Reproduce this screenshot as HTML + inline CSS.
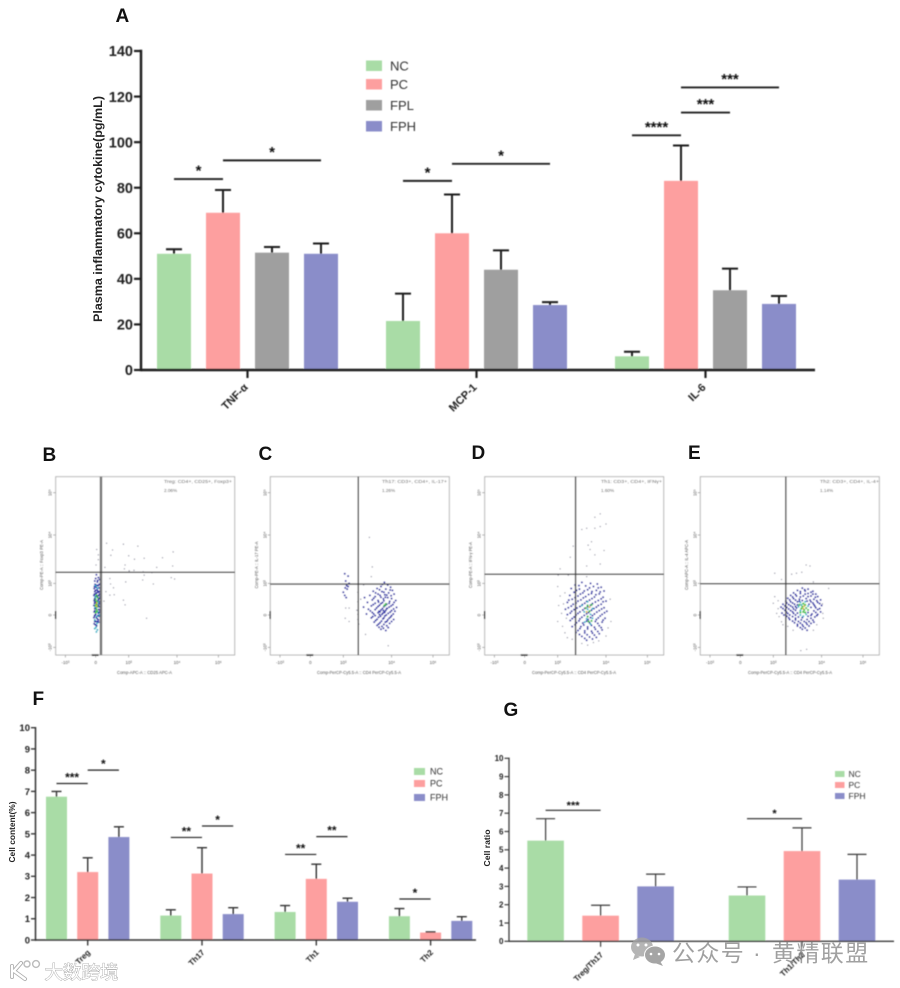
<!DOCTYPE html>
<html lang="en">
<head>
<meta charset="utf-8">
<title>Plasma cytokines and T-cell subsets</title>
<style>
html,body{margin:0;padding:0;background:#fff;width:900px;height:988px;overflow:hidden}
svg{display:block;font-family:"Liberation Sans","Noto Sans CJK SC",sans-serif}
.panel{font-weight:bold;fill:#111;font-size:19px}
.ftxt{fill:#555;font-size:4.6px}
.ttl{font-weight:bold;fill:#222}
</style>
</head>
<body>
<svg id="fig" xmlns="http://www.w3.org/2000/svg" width="900" height="988" viewBox="0 0 900 988">
  <defs>
    <filter id="soft" x="-5%" y="-5%" width="110%" height="110%"><feGaussianBlur stdDeviation="0.45"/></filter>
    <filter id="softer" x="-5%" y="-5%" width="110%" height="110%"><feGaussianBlur stdDeviation="0.4"/></filter>
  </defs>
  <g id="charts" filter="url(#soft)"></g>
  <g id="flows" filter="url(#softer)">
    <text class="ftxt" x="164" y="483" textLength="68" lengthAdjust="spacingAndGlyphs">Treg: CD4+, CD25+, Foxp3+</text>
    <text class="ftxt" x="164" y="492">2.06%</text>
    <text class="ftxt" x="382" y="483" textLength="65" lengthAdjust="spacingAndGlyphs">Th17: CD3+, CD4+, IL-17+</text>
    <text class="ftxt" x="382" y="492">1.26%</text>
    <text class="ftxt" x="601" y="483" textLength="61" lengthAdjust="spacingAndGlyphs">Th1: CD3+, CD4+, IFNγ+</text>
    <text class="ftxt" x="601" y="492">1.60%</text>
    <text class="ftxt" x="820" y="483" textLength="59" lengthAdjust="spacingAndGlyphs">Th2: CD3+, CD4+, IL-4+</text>
    <text class="ftxt" x="820" y="492">1.14%</text>
    <text class="ftxt" x="144.5" y="674" text-anchor="middle" textLength="55" lengthAdjust="spacingAndGlyphs">Comp-APC-A :: CD25 APC-A</text>
    <text class="ftxt" x="359" y="674" text-anchor="middle" textLength="84" lengthAdjust="spacingAndGlyphs">Comp-PerCP-Cy5.5-A :: CD4 PerCP-Cy5.5-A</text>
    <text class="ftxt" x="574" y="674" text-anchor="middle" textLength="84" lengthAdjust="spacingAndGlyphs">Comp-PerCP-Cy5.5-A :: CD4 PerCP-Cy5.5-A</text>
    <text class="ftxt" x="790" y="674" text-anchor="middle" textLength="84" lengthAdjust="spacingAndGlyphs">Comp-PerCP-Cy5.5-A :: CD4 PerCP-Cy5.5-A</text>
    <text class="ftxt" transform="translate(43,565) rotate(-90)" text-anchor="middle" textLength="50" lengthAdjust="spacingAndGlyphs">Comp-PE-A :: Foxp3 PE-A</text>
    <text class="ftxt" transform="translate(258,565) rotate(-90)" text-anchor="middle" textLength="47" lengthAdjust="spacingAndGlyphs">Comp-PE-A :: IL-17 PE-A</text>
    <text class="ftxt" transform="translate(472,565) rotate(-90)" text-anchor="middle" textLength="46" lengthAdjust="spacingAndGlyphs">Comp-PE-A :: IFN-γ PE-A</text>
    <text class="ftxt" transform="translate(688,565) rotate(-90)" text-anchor="middle" textLength="50" lengthAdjust="spacingAndGlyphs">Comp-APC-A :: IL-4 APC-A</text>
  </g>

  <text class="panel" x="115.5" y="22">A</text>
  <text class="panel" x="42.5" y="461">B</text>
  <text class="panel" x="258.5" y="460">C</text>
  <text class="panel" x="471.5" y="459">D</text>
  <text class="panel" x="688" y="459">E</text>
  <text class="panel" x="32.5" y="705">F</text>
  <text class="panel" x="503.5" y="716">G</text>

  <text class="ttl" font-size="12" transform="translate(102,209) rotate(-90)" text-anchor="middle" textLength="226" lengthAdjust="spacingAndGlyphs">Plasma inflammatory cytokine(pg/mL)</text>
  <text class="ttl" font-size="8.5" transform="translate(15,832) rotate(-90)" text-anchor="middle" textLength="61" lengthAdjust="spacingAndGlyphs">Cell content(%)</text>
  <text class="ttl" font-size="8.5" transform="translate(490,848) rotate(-90)" text-anchor="middle" textLength="37" lengthAdjust="spacingAndGlyphs">Cell ratio</text>

  <g>
    <g opacity="0.8">
      <ellipse cx="642" cy="947" rx="11" ry="9.5" fill="#a3a3a3"/>
      <path d="M635 954 l-2 6 l7 -3 z" fill="#a3a3a3"/>
      <ellipse cx="655" cy="955" rx="10.5" ry="9" fill="#8f8f8f" stroke="#fff" stroke-width="1"/>
      <path d="M660 961 l3 5 l-8 -3 z" fill="#8f8f8f"/>
      <circle cx="638" cy="945" r="1.5" fill="#fff"/><circle cx="646" cy="945" r="1.5" fill="#fff"/>
      <circle cx="651" cy="954" r="1.3" fill="#fff"/><circle cx="659" cy="954" r="1.3" fill="#fff"/>
    </g>
    <text x="672" y="961" font-size="23" letter-spacing="1.4" fill="#808080" fill-opacity="0.75">公众号</text>
    <text x="753" y="961" font-size="23" fill="#808080" fill-opacity="0.75">·</text>
    <text x="772" y="961" font-size="23" letter-spacing="1.4" fill="#808080" fill-opacity="0.75">黄精联盟</text>
  </g>
  <g>
    <path d="M12 966 L12 977 M21 963 L14 971 L25 979" fill="none" stroke="#aaa" stroke-width="4" stroke-linecap="round" stroke-linejoin="round"/>
    <path d="M12 966 L12 977 M21 963 L14 971 L25 979" fill="none" stroke="#fff" stroke-width="2.4" stroke-linecap="round" stroke-linejoin="round"/>
    <circle cx="27" cy="964" r="3" fill="none" stroke="#bbb" stroke-width="1.4"/>
    <circle cx="36" cy="964" r="3.4" fill="none" stroke="#bbb" stroke-width="1.4"/>
    <text x="44.5" y="979" font-size="18.5" fill="#fff" stroke="#a0a0a0" stroke-width="0.8" paint-order="stroke">大数跨境</text>
  </g>
</svg>

<script>
/* ---------- Panel A values ---------- */
const aCategories = ['TNF-α', 'MCP-1', 'IL-6'];
const aSeriesNames = ['NC', 'PC', 'FPL', 'FPH'];
const aTicks = [0, 20, 40, 60, 80, 100, 120, 140];
const aNC = [51, 21.5, 6];
const aPC = [69, 60, 83];
const aFPL = [51.5, 44, 35];
const aFPH = [51, 28.5, 29];
const aNCTop = [53, 33.5, 8];
const aPCTop = [79, 77, 98.5];
const aFPLTop = [54, 52.5, 44.5];
const aFPHTop = [55.5, 29.8, 32.5];
/* group, from series, to series, level, stars */
const aSig = [
  [0, 0, 1, 83.8, '*'], [0, 1, 3, 92, '*'],
  [1, 0, 1, 83, '*'], [1, 1, 3, 90.5, '*'],
  [2, 0, 1, 103, '****'], [2, 1, 2, 113, '***'], [2, 1, 3, 124, '***']
];

/* ---------- Panel F values ---------- */
const fCategories = ['Treg', 'Th17', 'Th1', 'Th2'];
const fSeriesNames = ['NC', 'PC', 'FPH'];
const fTicks = [0, 1, 2, 3, 4, 5, 6, 7, 8, 9, 10];
const fNC = [6.75, 1.15, 1.32, 1.12];
const fPC = [3.2, 3.13, 2.88, 0.35];
const fFPH = [4.85, 1.22, 1.8, 0.9];
const fNCTop = [7.0, 1.42, 1.62, 1.48];
const fPCTop = [3.87, 4.35, 3.57, 0.38];
const fFPHTop = [5.33, 1.52, 1.97, 1.1];
const fSig = [
  [0, 0, 1, 7.37, '***'], [0, 1, 2, 8.0, '*'],
  [1, 0, 1, 4.83, '**'], [1, 1, 2, 5.37, '*'],
  [2, 0, 1, 4.03, '**'], [2, 1, 2, 4.87, '**'],
  [3, 0, 1, 1.93, '*']
];

/* ---------- Panel G values ---------- */
const gCategories = ['Treg/Th17', 'Th1/Th2'];
const gSeriesNames = ['NC', 'PC', 'FPH'];
const gTicks = [0, 1, 2, 3, 4, 5, 6, 7, 8, 9, 10];
const gNC = [5.5, 2.5];
const gPC = [1.4, 4.93];
const gFPH = [3.0, 3.37];
const gNCTop = [6.7, 2.97];
const gPCTop = [1.97, 6.2];
const gFPHTop = [3.67, 4.75];
const gSig = [[0, 0, 1, 7.16, '***'], [1, 0, 1, 6.7, '*']];

/* ---------- Flow cytometry: events in display decades (-1=-10^3, 0=0, 1=10^3, 2=10^4, 3=10^5) ---------- */
const flowTickValues = [-1, 0, 1, 2, 3];
const flowTickLabels = ['-10³', '0', '10³', '10⁴', '10⁵'];

const bGate = [0.16, 1.23];
const bSparse = [[.33,1.83],[.84,1.81],[1.19,1.77],[.51,1.69],[.03,1.7],[1,1.57],[1.32,1.52],[1.92,1.65],[1.12,1.5],[.08,1.49],[.46,1.58],[1.7,1.53],[.89,1.38],[.87,1.3],[1.01,1.26],[1.11,1.27],[1.3,1.24],[1.58,1.33],[1.91,1.36],[1.48,1.22],[1.32,1.17],[1.88,1.12],[1.95,1.09],[1.29,1.07],[1.51,.98],[.91,1.03],[.28,1.33],[.01,1.38],[.43,1.1],[.45,.98],[.54,.86],[.31,.74],[.43,.63],[.56,.64],[.84,.47],[.89,.32],[1.37,-.1],[.25,.44],[.08,1.59]];
const bBlue = [[.02,1.18],[.08,1.12],[-.03,1.05],[.05,1.03],[.12,1.08],[-.02,.97],[.07,.93],[.13,.98],[.01,.88],[-.05,.84],[.1,.86],[.04,.8],[.15,.8],[-.03,.74],[.08,.72],[.01,.68],[.12,.66],[-.06,.62],[.05,.6],[.14,.58],[-.02,.53],[.09,.5],[-.05,.45],[.12,.42],[0,.38],[.15,.34],[-.06,.3],[.1,.26],[-.03,.2],[.13,.16],[-.05,.1],[.08,.06],[-.02,0],[.1,-.04],[-.06,-.08],[.05,-.12],[0,-.2],[.09,-.22],[-.05,-.27],[.03,-.33],[0,1.1],[.06,1.06],[.1,.96],[.03,.94],[-.04,.9],[.06,.76],[-.01,.78],[.11,.74],[.03,.7],[-.04,.66],[.09,.62],[0,.58],[.11,.53],[-.04,.5],[.07,.46],[-.02,.42],[.1,.36],[-.04,.37],[.08,.3],[0,.22],[.09,.17],[-.03,.13],[.11,.09],[0,.02],[.07,-.02],[-.04,-.03],[.02,-.08],[.08,-.15],[-.03,-.2],[.05,-.2],[-.01,-.3]];
const bCyan = [[0,.92],[.06,.85],[-.02,.56],[.07,.4],[.03,-.05],[-.03,-.15],[.04,-.26],[.01,-.38],[-.03,-.42],[.05,-.46],[.02,-.52],[.06,.1],[-.02,.25],[.11,0]];
const bGreen = [[.02,.62],[.06,.55],[0,.48],[.04,.42],[.03,.34],[-.01,.3],[.05,.26],[.02,.18],[.04,.12],[0,.08]];
const bHot = [[.03,.38],[.02,.28]];

const cGate = [1.31, 0.98];
const cSparse = [[1.42,.95],[1.3,.72],[1.36,.5],[1.3,.42],[1.12,.22],[1.05,.22],[1.28,.15],[1.3,.02],[1.04,-.1],[1.12,-.2],[1.3,-.14],[1.32,-.28],[1.46,-.6],[1.93,-.95],[1.54,1.95],[1.6,1.34],[1.58,1.14]];
const cBlue = [[1.85,1.02],[1.92,.95],[1.78,.9],[1.98,.88],[1.7,.84],[1.88,.82],[2.02,.78],[1.62,.75],[1.8,.74],[1.94,.7],[1.72,.66],[1.86,.64],[2.06,.66],[1.55,.62],[1.66,.58],[1.78,.56],[1.92,.55],[2,.52],[1.44,.55],[1.6,.48],[1.72,.46],[1.84,.45],[1.96,.43],[2.1,.46],[1.5,.4],[1.66,.37],[1.78,.36],[1.9,.34],[2.03,.33],[1.58,.29],[1.72,.27],[1.84,.26],[1.95,.25],[2.12,.24],[1.42,.25],[1.52,.18],[1.66,.17],[1.78,.16],[1.88,.15],[2,.14],[2.08,.12],[1.6,.08],[1.72,.07],[1.82,.06],[1.93,.05],[2.04,.03],[1.48,.03],[1.66,-.02],[1.77,-.04],[1.86,-.03],[1.98,-.06],[1.58,-.09],[1.7,-.13],[1.82,-.12],[1.92,-.15],[2.05,-.14],[1.64,-.22],[1.76,-.24],[1.87,-.22],[1.96,-.26],[1.7,-.32],[1.8,-.35],[1.9,-.33],[1.78,-.44],[1.88,-.48],[1.83,.14],[1.86,.1],[1.8,.02],[1.76,.1],[1.9,.2],[1.03,1.2],[1.1,1.15],[1.05,1.05],[1.12,1],[1.07,.93],[1.1,.9],[1.04,.86],[1.08,.82],[1,.72],[1.03,.62],[1.06,.55],[1.81,.97],[1.75,.8],[1.84,.72],[1.97,.79],[1.67,.7],[1.76,.62],[1.9,.63],[1.99,.61],[1.63,.53],[1.83,.51],[1.87,.56],[1.73,.41],[1.81,.39],[1.95,.37],[2.06,.4],[1.62,.33],[1.75,.31],[1.87,.3],[1.99,.29],[1.69,.22],[1.81,.2],[1.91,.21],[2.05,.19],[1.56,.13],[1.74,.12],[1.85,.08],[1.97,.09],[1.63,.03],[1.75,.01],[1.89,0],[2,-.02],[1.61,-.05],[1.73,-.07],[1.84,-.09],[1.95,-.1],[1.67,-.17],[1.79,-.19],[1.9,-.2],[2,-.2],[1.73,-.28],[1.84,-.29],[1.93,-.39],[1.74,-.38],[1.83,-.41]];
const cCyan = [];
const cGreen = [[1.85,.3],[1.88,.35]];
const cHot = [];

const dGate = [1.37, 1.19];
const dSparse = [[1.88,2.5],[1.77,2.42],[2,2.26],[1.88,2.2],[1.77,2.16],[1.6,2.16],[1.5,2.13],[1.7,1.86],[1.63,1.79],[1.67,1.7],[1.96,1.68],[1.77,1.59],[1.32,1.77],[1.26,1.54],[1.88,1.4],[1.6,1.36],[1.05,1.3],[1.01,1.17],[1.22,1.17],[1.6,1.14],[1,.9],[1.05,.6],[1.02,.3],[1.08,.05],[1,-.2],[1.1,-.35],[1.15,-.55],[1.2,-.7],[1.3,-.75],[2.1,.5],[2.12,-.2],[2.05,-.4],[2,-.65],[1.5,-.88],[1.62,-.93],[1.74,-.85],[1.85,-.8],[1.15,.7],[1.12,.35],[1.18,-.1]];
const dBlue = [[1.5,1.02],[1.68,1],[1.82,.98],[1.36,.95],[1.58,.92],[1.74,.9],[1.9,.88],[1.28,.84],[1.45,.82],[1.62,.8],[1.8,.78],[1.96,.76],[1.34,.72],[1.52,.7],[1.7,.68],[1.86,.67],[1.25,.62],[1.42,.6],[1.58,.58],[1.76,.57],[1.94,.56],[1.3,.5],[1.48,.48],[1.66,.47],[1.84,.46],[2,.44],[1.2,.4],[1.38,.38],[1.56,.37],[1.72,.36],[1.9,.34],[1.28,.28],[1.46,.27],[1.62,.26],[1.8,.25],[1.96,.23],[1.16,.18],[1.34,.17],[1.52,.16],[1.7,.15],[1.86,.14],[2.02,.12],[1.26,.06],[1.42,.05],[1.6,.04],[1.76,.03],[1.92,.02],[1.34,-.06],[1.5,-.07],[1.68,-.08],[1.84,-.09],[1.98,-.1],[1.26,-.17],[1.44,-.18],[1.6,-.19],[1.78,-.2],[1.92,-.22],[1.36,-.3],[1.54,-.31],[1.7,-.32],[1.86,-.33],[1.46,-.42],[1.62,-.43],[1.78,-.44],[1.92,-.46],[1.38,-.54],[1.56,-.55],[1.72,-.56],[1.86,-.58],[1.5,-.66],[1.66,-.68],[1.8,-.69],[1.6,-.78],[1.44,.93],[1.66,.86],[1.84,.86],[1.39,.78],[1.55,.76],[1.71,.74],[1.88,.73],[1.47,.66],[1.64,.65],[1.79,.64],[1.36,.55],[1.53,.54],[1.71,.52],[1.9,.51],[1.23,.47],[1.42,.44],[1.6,.43],[1.78,.41],[1.94,.42],[1.32,.34],[1.51,.33],[1.68,.31],[1.84,.3],[1.22,.23],[1.4,.22],[1.56,.21],[1.75,.2],[1.91,.19],[1.29,.12],[1.46,.1],[1.64,.08],[1.81,.09],[1.97,.07],[1.2,.01],[1.38,0],[1.55,-.01],[1.72,-.02],[1.88,-.03],[1.3,-.11],[1.46,-.12],[1.63,-.14],[1.8,-.14],[1.94,-.16],[1.39,-.24],[1.52,-.25],[1.66,-.24],[1.83,-.26],[1.3,-.36],[1.48,-.36],[1.62,-.37],[1.76,-.38],[1.9,-.39],[1.42,-.48],[1.56,-.49],[1.7,-.5],[1.83,-.51],[1.45,-.6],[1.61,-.61],[1.76,-.62],[1.56,-.72],[1.72,-.74]];
const dCyan = [[1.5,.3],[1.62,.42],[1.72,.2],[1.55,.1],[1.68,.02],[1.6,-.12],[1.72,-.1],[1.56,-.22],[1.68,-.28],[1.62,.18]];
const dGreen = [[1.62,.3],[1.7,.32],[1.58,.22],[1.66,.12],[1.62,-.05],[1.7,-.18],[1.64,-.2]];
const dHot = [[1.66,.25],[1.6,.1]];

const eGate = [1.26, 0.99];
const eSparse = [[1.03,1.21],[1.17,1.08],[1.38,1.19],[1.48,1.21],[1.59,1.23],[1.68,1.38],[1.76,1.36],[1.83,1.03],[2.17,.84],[1.57,-1.1],[1.69,-1.06],[1,.37],[1.07,.05],[1.03,.58],[1.17,-.21],[1.41,-.47],[1.83,-.47],[2.03,.05],[1.55,1],[1.1,.2],[1.12,-.05],[1.1,.45],[1.2,-.3],[2.02,.35],[2.04,-.1],[1.3,-.35],[1.9,-.3]];
const eBlue = [[1.6,.85],[1.72,.82],[1.5,.78],[1.66,.76],[1.82,.75],[1.42,.7],[1.56,.68],[1.72,.68],[1.88,.66],[1.36,.62],[1.48,.6],[1.62,.6],[1.78,.6],[1.92,.58],[1.3,.53],[1.42,.52],[1.54,.5],[1.68,.52],[1.84,.5],[1.98,.48],[1.26,.44],[1.36,.42],[1.5,.42],[1.78,.42],[1.92,.4],[1.2,.34],[1.32,.33],[1.44,.34],[1.84,.33],[2,.3],[1.16,.25],[1.28,.24],[1.4,.25],[1.88,.23],[1.96,.2],[1.24,.15],[1.36,.14],[1.46,.15],[1.84,.13],[1.98,.1],[1.18,.06],[1.3,.05],[1.42,.05],[1.8,.03],[1.92,.02],[1.28,-.04],[1.4,-.05],[1.52,-.06],[1.72,-.04],[1.86,-.06],[1.34,-.14],[1.46,-.15],[1.58,-.15],[1.7,-.14],[1.82,-.16],[1.44,-.24],[1.56,-.25],[1.68,-.24],[1.78,-.26],[1.5,-.34],[1.62,-.35],[1.74,-.34],[1.6,-.44],[1.7,-.47],[1.5,.32],[1.74,.34],[1.48,.22],[1.78,.24],[1.5,.06],[1.72,.08],[1.6,-.08],[1.54,.44],[1.7,.44],[1.65,.8],[1.56,.74],[1.78,.72],[1.46,.65],[1.66,.66],[1.82,.66],[1.4,.57],[1.56,.57],[1.72,.58],[1.87,.56],[1.34,.48],[1.46,.47],[1.6,.46],[1.76,.47],[1.9,.45],[1.28,.38],[1.4,.38],[1.82,.38],[1.96,.36],[1.24,.29],[1.36,.29],[1.46,.27],[1.86,.28],[1.2,.2],[1.32,.19],[1.42,.19],[1.92,.17],[1.27,.1],[1.4,.1],[1.88,.08],[1.22,0],[1.34,0],[1.46,0],[1.78,-.01],[1.9,-.02],[1.32,-.09],[1.46,-.1],[1.78,-.1],[1.4,-.19],[1.52,-.2],[1.64,-.2],[1.74,-.2],[1.84,-.22],[1.5,-.29],[1.6,-.3],[1.7,-.29],[1.56,-.39],[1.66,-.4]];
const eCyan = [[1.56,.4],[1.66,.42],[1.58,.32],[1.72,.28],[1.56,.14],[1.68,.02],[1.56,0],[1.62,-.04],[1.52,.26]];
const eGreen = [[1.62,.36],[1.66,.32],[1.6,.26],[1.68,.22],[1.64,.16],[1.58,.2],[1.72,.16],[1.62,.1],[1.66,.08],[1.56,.08],[1.54,.32]];
const eHot = [[1.64,.28],[1.62,.2]];

/* ---------- Shared helpers ---------- */
const NS = 'http://www.w3.org/2000/svg';
const seriesColor = {NC: '#a9dca6', PC: '#fd9f9f', FPL: '#9f9f9f', FPH: '#8a8dc9'};

function mk(tag, attrs, parent, text) {
  const el = document.createElementNS(NS, tag);
  for (const k in attrs) el.setAttribute(k, attrs[k]);
  if (text !== undefined) el.textContent = text;
  parent.appendChild(el);
  return el;
}

/* ---------- Bar chart ---------- */
function drawBars(c) {
  const root = document.getElementById('charts');
  const g = mk('g', {}, root);
  
  
  const max = c.ticks[c.ticks.length - 1];
  const yScale = v => c.y0 - (v / max) * (c.y0 - c.yTop);
  const xLeft = (gi, si) => c.x0 + gi * c.groupStep + si * c.barStep;
  const xMid = (gi, si) => xLeft(gi, si) + c.barW / 2;

  c.series.forEach((vals, si) => {
    const name = c.names[si];
    vals.forEach((v, gi) => {
      const bar = mk('rect', {x: xLeft(gi, si), y: yScale(v), width: c.barW, height: c.y0 - yScale(v), fill: seriesColor[name]}, g);
      
      
      const top = yScale(c.tops[si][gi]);
      const mid = xMid(gi, si);
      const err = mk('path', {d: 'M' + mid + ' ' + yScale(v) + 'V' + top + 'M' + (mid - c.capW / 2) + ' ' + top + 'H' + (mid + c.capW / 2), fill: 'none', stroke: c.ink, 'stroke-width': c.errW}, g);
      
      
    });
  });

  const yAxis = mk('line', {x1: c.axisX, x2: c.axisX, y1: c.yTop - c.axisW / 2, y2: c.y0 + c.axisW / 2, stroke: c.ink, 'stroke-width': c.axisW}, g);
  
  
  const xAxis = mk('line', {x1: c.axisX, x2: c.axisEnd, y1: c.y0, y2: c.y0, stroke: c.ink, 'stroke-width': c.axisW}, g);
  
  

  c.ticks.forEach(t => {
    const tick = mk('line', {x1: c.axisX - c.tickLen, x2: c.axisX, y1: yScale(t), y2: yScale(t), stroke: c.ink, 'stroke-width': c.axisW * 0.9}, g);
    
    
    const lab = mk('text', {x: c.axisX - c.tickLen - 1, y: yScale(t) + c.tickFont * 0.36, 'text-anchor': 'end', 'font-size': c.tickFont, 'font-weight': 'bold', fill: '#222'}, g, String(t));
    
    
  });

  c.categories.forEach((name, gi) => {
    const tx = xLeft(gi, c.tickSeries) + c.tickShift;
    const tick = mk('line', {x1: tx, x2: tx, y1: c.y0, y2: c.y0 + c.tickLen + 1, stroke: c.ink, 'stroke-width': c.axisW * 0.9}, g);
    
    
    const lab = mk('text', {transform: 'translate(' + (tx + c.labDx) + ',' + (c.y0 + c.labDy) + ') rotate(-45)', 'text-anchor': 'end', 'font-size': c.catFont, 'font-weight': 'bold', fill: '#222'}, g, name);
    
    
  });

  c.sig.forEach(s => {
    const x1 = xMid(s[0], s[1]), x2 = xMid(s[0], s[2]), y = yScale(s[3]);
    const line = mk('line', {x1: x1, x2: x2, y1: y, y2: y, stroke: '#222', 'stroke-width': c.sigW}, g);
    
    
    const star = mk('text', {x: (x1 + x2) / 2, y: y + c.starDy, 'text-anchor': 'middle', 'font-size': c.starFont, 'font-weight': 'bold', fill: '#111'}, g, s[4]);
    
    
  });

  c.names.forEach((name, i) => {
    const sw = mk('rect', {x: c.legX, y: c.legYs[i], width: c.legW, height: c.legH, fill: seriesColor[name]}, g);
    
    
    const lab = mk('text', {x: c.legX + c.legW + c.legGap, y: c.legYs[i] + c.legH / 2 + c.legFont * 0.36, 'font-size': c.legFont, fill: '#333'}, g, name);
    
    
  });
}

drawBars({id: 'a', categories: aCategories, names: aSeriesNames, ticks: aTicks,
  series: [aNC, aPC, aFPL, aFPH], tops: [aNCTop, aPCTop, aFPLTop, aFPHTop], sig: aSig,
  y0: 370, yTop: 51, x0: 157, barW: 34, barStep: 49, groupStep: 229, axisX: 141, axisEnd: 815,
  capW: 16, errW: 2, axisW: 2.4, tickLen: 7, tickFont: 14.5, catFont: 11, ink: '#1c1c1c',
  tickSeries: 2, tickShift: -7.5, labDx: 1, labDy: 18, sigW: 1.9, starDy: -3.5, starFont: 15,
  legX: 366, legYs: [60.5, 79, 100, 121], legW: 16, legH: 10.5, legGap: 8, legFont: 13});

drawBars({id: 'f', categories: fCategories, names: fSeriesNames, ticks: fTicks,
  series: [fNC, fPC, fFPH], tops: [fNCTop, fPCTop, fFPHTop], sig: fSig,
  y0: 940, yTop: 727.7, x0: 46, barW: 21, barStep: 31.2, groupStep: 114.3, axisX: 35.5, axisEnd: 476,
  capW: 10, errW: 1.4, axisW: 1.5, tickLen: 4.5, tickFont: 9.5, catFont: 8, ink: '#333',
  tickSeries: 1, tickShift: 10.5, labDx: 3, labDy: 13, sigW: 1.2, starDy: -2, starFont: 12,
  legX: 414, legYs: [768, 780, 794], legW: 11, legH: 7, legGap: 5, legFont: 9});

drawBars({id: 'g', categories: gCategories, names: gSeriesNames, ticks: gTicks,
  series: [gNC, gPC, gFPH], tops: [gNCTop, gPCTop, gFPHTop], sig: gSig,
  y0: 941.3, yTop: 758.3, x0: 527.3, barW: 36.6, barStep: 55, groupStep: 201.4, axisX: 509, axisEnd: 894,
  capW: 19, errW: 1.2, axisW: 1.3, tickLen: 4.5, tickFont: 8, catFont: 8, ink: '#3a3a3a',
  tickSeries: 1, tickShift: 18.3, labDx: 3, labDy: 14, sigW: 1.1, starDy: -1.5, starFont: 11,
  legX: 835, legYs: [771, 782, 793], legW: 9.5, legH: 6, legGap: 4, legFont: 8.5});

/* ---------- Flow cytometry plots ---------- */
function interp(v, anchors) {
  let i = 0;
  while (i < flowTickValues.length - 2 && v > flowTickValues[i + 1]) i++;
  const a = flowTickValues[i], b = flowTickValues[i + 1];
  return anchors[i] + (v - a) / (b - a) * (anchors[i + 1] - anchors[i]);
}

function drawFlow(p) {
  const root = document.getElementById('flows');
  const g = mk('g', {}, root);
  
  
  const W = 179, H = 178.3;
  const xAnchors = [9.7, 40, 73, 121.3, 162.7];
  const yAnchors = [170.7, 138.3, 106.7, 58.3, 16];
  const X = v => p.left + interp(v, xAnchors);
  const Y = v => p.top + interp(v, yAnchors);

  const frame = mk('rect', {x: p.left, y: p.top, width: W, height: H, fill: '#fff', stroke: '#aeaeae', 'stroke-width': 0.9}, g);
  
  

  const layers = [[p.sparse, '#86869a', 0.65], [p.blue, '#2226a6', 1.0], [p.cyan, '#1fb2c8', 1.0], [p.green, '#3fc044', 1.1], [p.hot, '#d9b92e', 1.0]];
  layers.forEach(layer => {
    layer[0].forEach(pt => {
      const dot = mk('circle', {cx: X(pt[0]), cy: Y(pt[1]), r: layer[2], fill: layer[1]}, g);
      
      
    });
  });

  const vGate = mk('line', {x1: X(p.gate[0]), x2: X(p.gate[0]), y1: p.top, y2: p.top + H, stroke: p.gateColor, 'stroke-width': p.gateW}, g);
  
  
  const hGate = mk('line', {x1: p.left, x2: p.left + W, y1: Y(p.gate[1]), y2: Y(p.gate[1]), stroke: '#404040', 'stroke-width': 1.4}, g);
  
  

  flowTickValues.forEach((t, i) => {
    const xt = mk('line', {x1: X(t), x2: X(t), y1: p.top + H, y2: p.top + H + 2.5, stroke: '#888', 'stroke-width': 0.6}, g);
    
    
    const xl = mk('text', {x: X(t), y: p.top + H + 9, 'text-anchor': 'middle', 'font-size': 4.4, fill: '#555'}, g, flowTickLabels[i]);
    
    
    const yt = mk('line', {x1: p.left - 2.5, x2: p.left, y1: Y(t), y2: Y(t), stroke: '#888', 'stroke-width': 0.6}, g);
    
    
    const yl = mk('text', {transform: 'translate(' + (p.left - 4) + ',' + Y(t) + ') rotate(-90)', 'text-anchor': 'middle', 'font-size': 4.4, fill: '#555'}, g, flowTickLabels[i]);
    
    
  });

  const zeroX = mk('line', {x1: X(0) - 4, x2: X(0) + 3, y1: p.top + H, y2: p.top + H, stroke: '#111', 'stroke-width': 1.4}, g);
  
  
  const zeroY = mk('line', {x1: p.left, x2: p.left, y1: Y(0) - 4, y2: Y(0) + 4, stroke: '#222', 'stroke-width': 1.2}, g);
  
  

  root.appendChild(g);
}

drawFlow({id: 'b', left: 55.7, top: 476.7, gate: bGate, gateW: 2.4, gateColor: '#707070', sparse: bSparse, blue: bBlue, cyan: bCyan, green: bGreen, hot: bHot});
drawFlow({id: 'c', left: 270.3, top: 476.7, gate: cGate, gateW: 1.4, gateColor: '#404040', sparse: cSparse, blue: cBlue, cyan: cCyan, green: cGreen, hot: cHot});
drawFlow({id: 'd', left: 484.7, top: 476.7, gate: dGate, gateW: 1.4, gateColor: '#404040', sparse: dSparse, blue: dBlue, cyan: dCyan, green: dGreen, hot: dHot});
drawFlow({id: 'e', left: 700.3, top: 476.7, gate: eGate, gateW: 1.4, gateColor: '#404040', sparse: eSparse, blue: eBlue, cyan: eCyan, green: eGreen, hot: eHot});

/* keep annotation text above the plot frames */
const flowsRoot = document.getElementById('flows');
Array.from(flowsRoot.querySelectorAll(':scope > text')).forEach(t => flowsRoot.appendChild(t));
</script>
</body>
</html>
